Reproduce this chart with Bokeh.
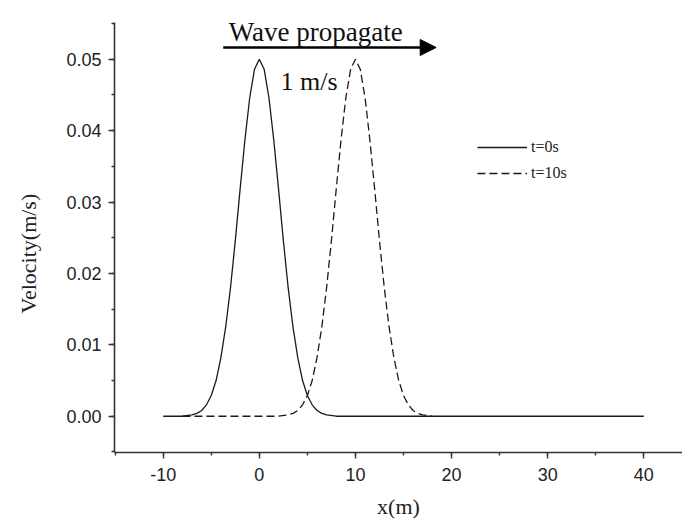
from bokeh.plotting import figure
from bokeh.models import (Range1d, SingleIntervalTicker, NumeralTickFormatter, Legend,
                          LegendItem, Arrow, NormalHead, Label, Title, CustomJSTickFormatter)
from bokeh.embed import file_html
from bokeh.resources import INLINE

# ---- data ----
x_t0 = [-10, -8, -7, -6.5, -6, -5.5, -5, -4.5, -4, -3.5, -3, -2.5, -2, -1.5, -1, -0.5,
        0, 0.5, 1, 1.5, 2, 2.5, 3, 3.5, 4, 4.5, 5, 5.5, 6, 6.5, 7, 8, 40]
v_t0 = [0.0, 0.0, 0.0002, 0.0004, 0.0008, 0.0016, 0.0029, 0.0050, 0.0082, 0.0125, 0.0180,
        0.0246, 0.0318, 0.0387, 0.0446, 0.0486, 0.0500, 0.0486, 0.0446, 0.0387, 0.0318,
        0.0246, 0.0180, 0.0125, 0.0082, 0.0050, 0.0029, 0.0016, 0.0008, 0.0004, 0.0002,
        0.0, 0.0]

x_t10 = [-8, 2, 3, 3.5, 4, 4.5, 5, 5.5, 6, 6.5, 7, 7.5, 8, 8.5, 9, 9.5,
         10, 10.5, 11, 11.5, 12, 12.5, 13, 13.5, 14, 14.5, 15, 15.5, 16, 16.5, 17, 18]
v_t10 = [0.0, 0.0, 0.0002, 0.0004, 0.0008, 0.0016, 0.0029, 0.0050, 0.0082, 0.0125, 0.0180,
         0.0246, 0.0318, 0.0387, 0.0446, 0.0486, 0.0500, 0.0486, 0.0446, 0.0387, 0.0318,
         0.0246, 0.0180, 0.0125, 0.0082, 0.0050, 0.0029, 0.0016, 0.0008, 0.0004, 0.0002,
         0.0]

series_labels = ["t=0s", "t=10s"]
x_label = "x(m)"
y_label = "Velocity(m/s)"
title_text = "Wave propagate"
speed_text = "1 m/s"

SERIF = "Liberation Serif"
SANS = "Liberation Sans"
INK = "#1a1a1a"
AXIS = "#333333"

p = figure(width=682, height=522, x_range=Range1d(-15.07, 44.03),
           y_range=Range1d(-0.00508, 0.05514), output_backend="svg",
           toolbar_location=None, min_border_left=114, min_border_right=0,
           min_border_top=22, min_border_bottom=70)
p.outline_line_color = None
p.xgrid.visible = False
p.ygrid.visible = False
p.background_fill_color = "white"
p.border_fill_color = "white"

p.xaxis.ticker = SingleIntervalTicker(interval=10, num_minor_ticks=2)
p.yaxis.ticker = SingleIntervalTicker(interval=0.01, num_minor_ticks=2)
p.yaxis.formatter = NumeralTickFormatter(format="0.00")
p.xaxis.formatter = CustomJSTickFormatter(code="return tick.toFixed(0);")
for ax in (p.xaxis[0], p.yaxis[0]):
    ax.axis_line_color = AXIS
    ax.axis_line_width = 1.6
    ax.major_tick_line_color = AXIS
    ax.minor_tick_line_color = AXIS
    ax.major_tick_line_width = 1.4
    ax.minor_tick_line_width = 1.4
    ax.major_tick_in = 0
    ax.major_tick_out = 6
    ax.minor_tick_in = 0
    ax.minor_tick_out = 3
    ax.major_label_text_font = SANS
    ax.major_label_text_font_size = "18px"
    ax.major_label_text_color = "#222222"
p.yaxis.major_label_standoff = 7
p.xaxis.major_label_standoff = 9

# x axis title
p.xaxis.axis_label = x_label
p.xaxis.axis_label_text_font = SERIF
p.xaxis.axis_label_text_font_size = "22px"
p.xaxis.axis_label_text_font_style = "normal"
p.xaxis.axis_label_text_color = "#222222"
p.xaxis.axis_label_standoff = 10

# spacer so the y title sits at the far left
p.yaxis.axis_label = " "
p.yaxis.axis_label_text_font_size = "16px"
p.yaxis.axis_label_standoff = 0

r0 = p.line(x_t0, v_t0, line_color=INK, line_width=1.3)
r1 = p.line(x_t10, v_t10, line_color=INK, line_width=1.3, line_dash="8 4")

legend = Legend(items=[LegendItem(label=series_labels[0], renderers=[r0]),
                       LegendItem(label=series_labels[1], renderers=[r1])],
                location=(363, 269), orientation="vertical",
                glyph_width=50, glyph_height=20, label_height=20, spacing=6,
                padding=0, margin=0, label_standoff=4,
                border_line_color=None, background_fill_alpha=0,
                label_text_font=SERIF, label_text_font_size="16px",
                label_text_color="#222222")
p.add_layout(legend, "center")

# annotations
p.add_layout(Arrow(end=NormalHead(size=16, fill_color="black", line_color="black"),
                   x_start=-3.76, y_start=0.05164, x_end=18.40, y_end=0.05164,
                   line_color="black", line_width=2.5))
p.add_layout(Label(x=-3.18, y=0.05378, text=title_text, text_font=SERIF,
                   text_font_size="27px", text_color="#111111", text_baseline="alphabetic"))
p.add_layout(Label(x=2.20, y=0.04688, text=speed_text, text_font=SERIF,
                   text_font_size="26px", text_color="#111111", text_baseline="alphabetic"))

# y axis title
p.add_layout(Title(text=y_label, align="left", offset=139, text_font=SERIF,
                   text_font_size="22px", text_font_style="normal", text_color="#222222",
                   standoff=6), "left")

open("out.html", "w").write(file_html(p, INLINE))
